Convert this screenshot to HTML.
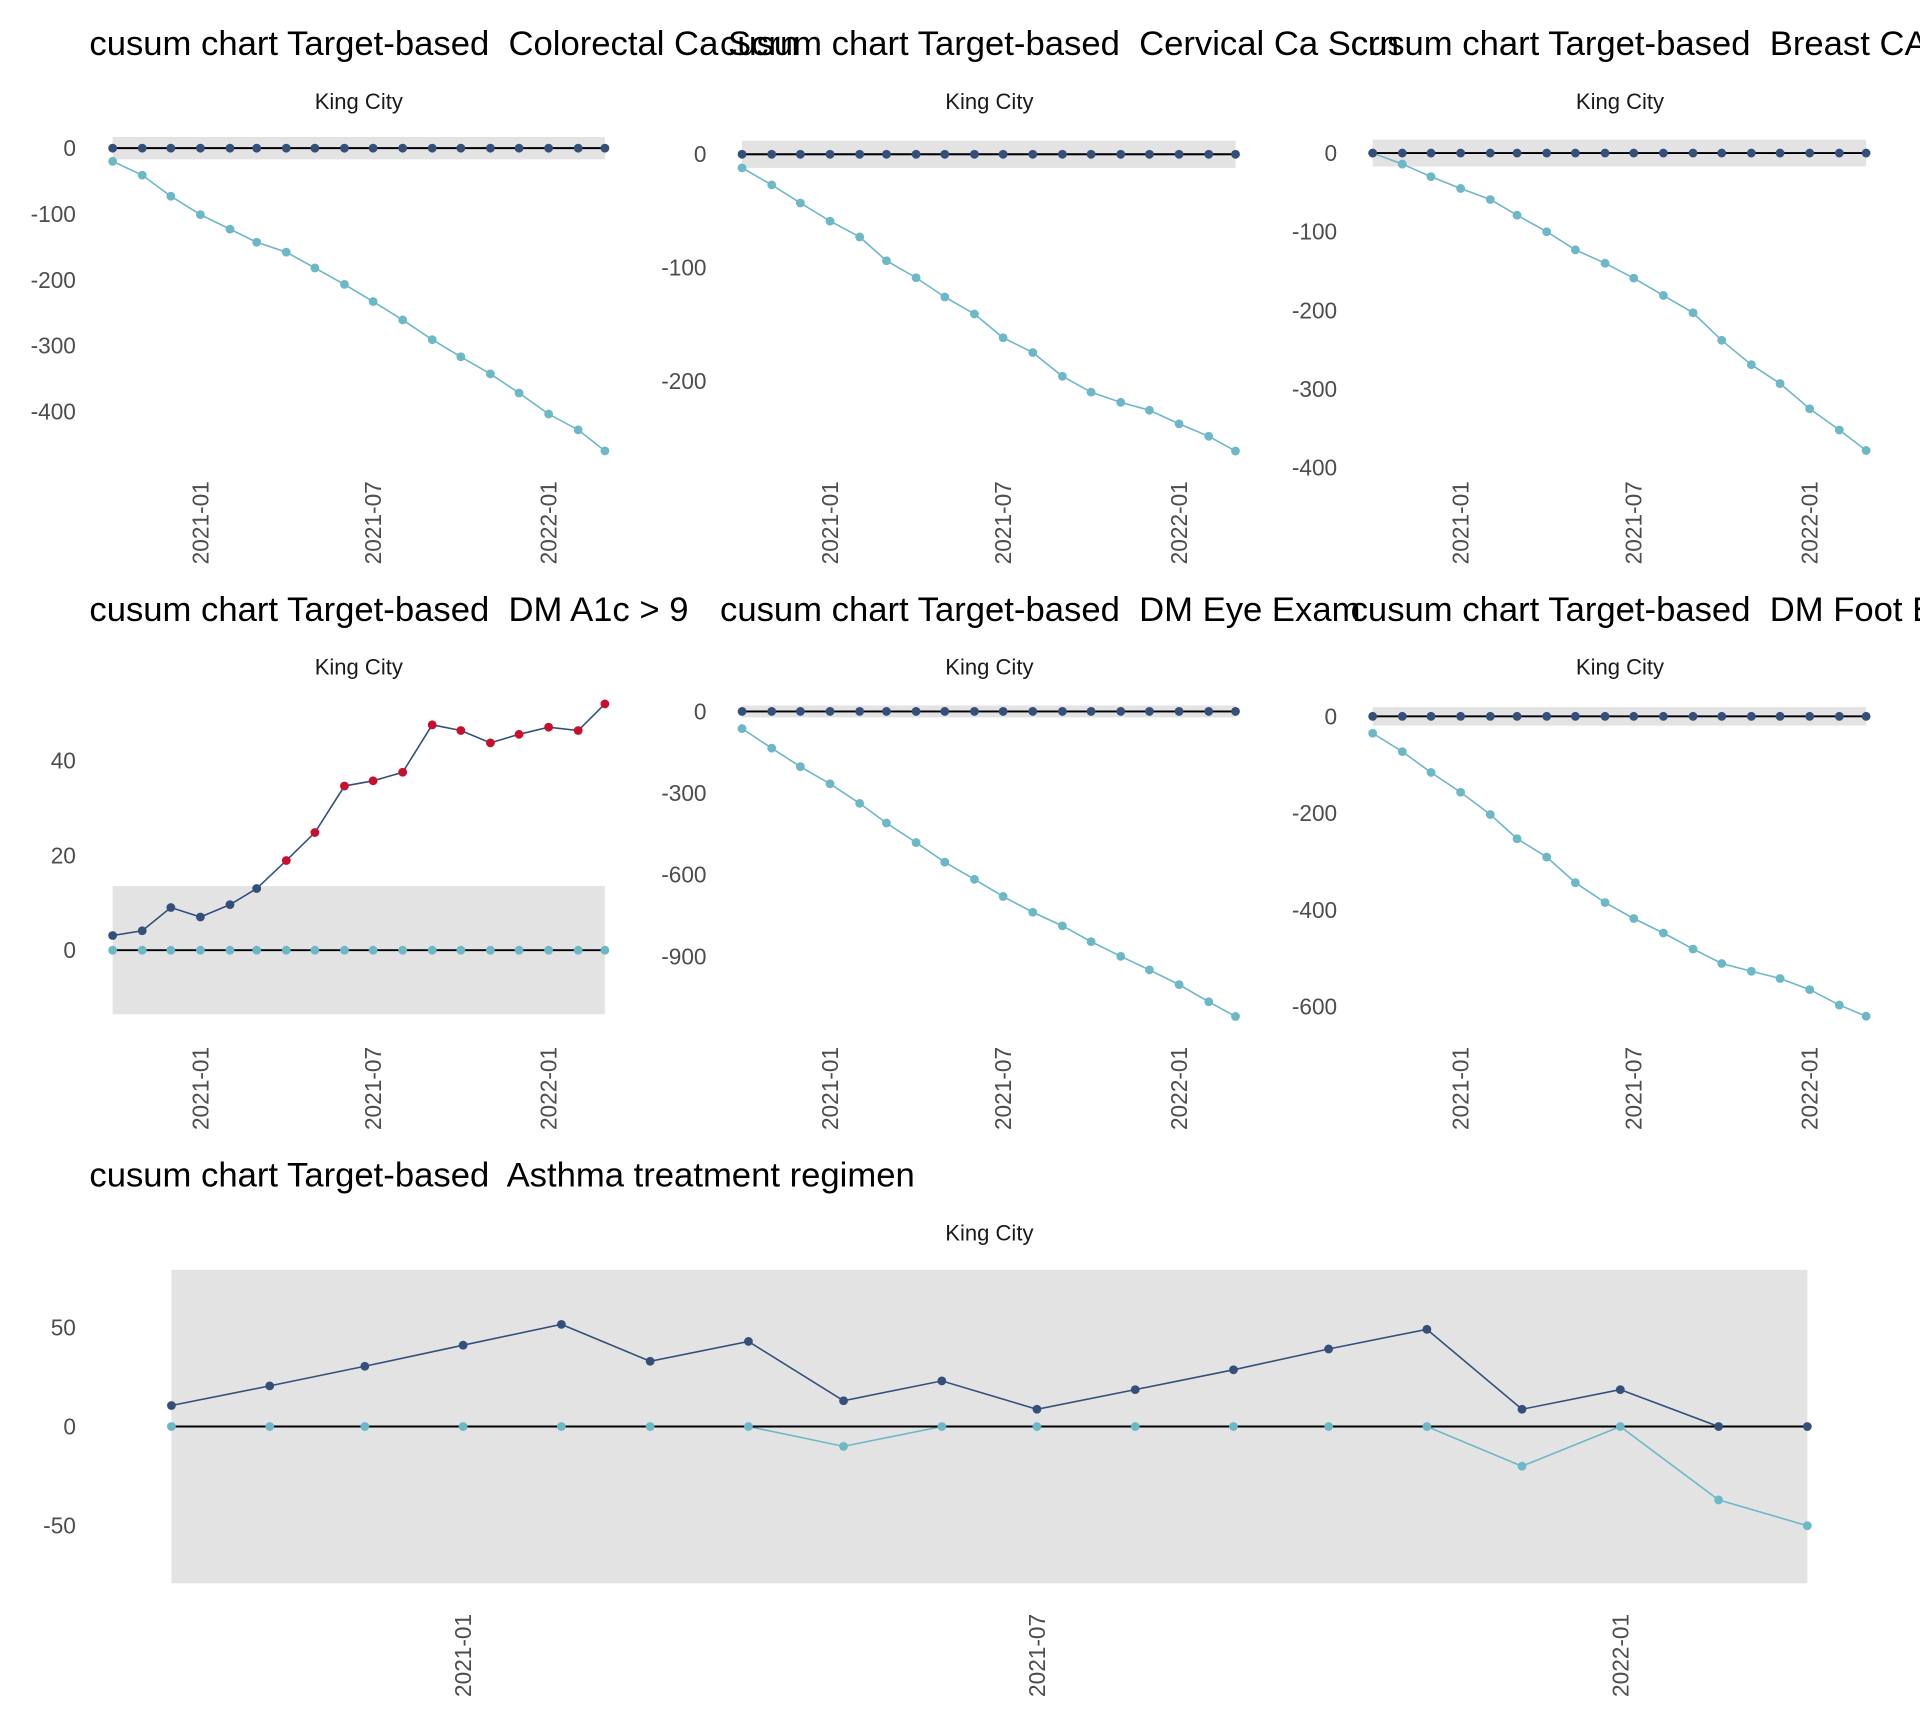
<!DOCTYPE html>
<html><head><meta charset="utf-8">
<style>
html,body{margin:0;padding:0;background:#fff;}
svg{display:block;font-family:"Liberation Sans",Arial,sans-serif;}
text{white-space:pre;}
</style></head>
<body>
<svg id="chart" width="1920" height="1728" viewBox="0 0 1568 1411.2" xmlns="http://www.w3.org/2000/svg" xml:space="preserve"></svg>
<script>
const months = ["2020-10","2020-11","2020-12","2021-01","2021-02","2021-03","2021-04","2021-05","2021-06","2021-07","2021-08","2021-09","2021-10","2021-11","2021-12","2022-01","2022-02","2022-03"];
const xTickLabels = ["2021-01","2021-07","2022-01"];
const titles = ["cusum chart Target-based  Colorectal Ca Scrn","cusum chart Target-based  Cervical Ca Scrn","cusum chart Target-based  Breast CA Scrn","cusum chart Target-based  DM A1c > 9","cusum chart Target-based  DM Eye Exam","cusum chart Target-based  DM Foot Exam","cusum chart Target-based  Asthma treatment regimen"];
const upperColorectal = [0,0,0,0,0,0,0,0,0,0,0,0,0,0,0,0,0,0];
const lowerColorectal = [-20,-41,-73,-101,-123,-143,-158,-182,-207,-233,-261,-291,-317,-343,-372,-404,-428,-460];
const upperCervical = [0,0,0,0,0,0,0,0,0,0,0,0,0,0,0,0,0,0];
const lowerCervical = [-12,-27,-43,-59,-73,-94,-109,-126,-141,-162,-175,-196,-210,-219,-226,-238,-249,-262];
const upperBreast = [0,0,0,0,0,0,0,0,0,0,0,0,0,0,0,0,0,0];
const lowerBreast = [0,-14,-30,-45,-59,-79,-100,-123,-140,-159,-181,-203,-238,-269,-293,-325,-352,-378];
const upperA1c = [3.1,4.1,9.0,7.0,9.6,13.0,18.9,24.8,34.6,35.7,37.5,47.5,46.3,43.7,45.5,47.0,46.3,51.9];
const lowerA1c = [0,0,0,0,0,0,0,0,0,0,0,0,0,0,0,0,0,0];
const upperEye = [0,0,0,0,0,0,0,0,0,0,0,0,0,0,0,0,0,0];
const lowerEye = [-63,-135,-203,-266,-338,-410,-482,-554,-617,-680,-738,-788,-846,-900,-950,-1004,-1067,-1121];
const upperFoot = [0,0,0,0,0,0,0,0,0,0,0,0,0,0,0,0,0,0];
const lowerFoot = [-35,-73,-116,-157,-203,-253,-291,-344,-385,-418,-448,-481,-511,-527,-542,-565,-597,-620];
const upperAsthma = [10.6,20.5,30.4,41,51.5,32.9,42.9,13,23,8.7,18.6,28.6,39.1,49,8.7,18.6,0,0];
const lowerAsthma = [0,0,0,0,0,0,0,-10,0,0,0,0,0,0,-20,0,-37,-50];
const limitsColorectal = [17]; const limitsCervical=[12]; const limitsBreast=[17]; const limitsA1c=[13.5]; const limitsEye=[22]; const limitsFoot=[19]; const limitsAsthma=[79];
const yTicksColorectal=[0,-100,-200,-300,-400];
const yTicksCervical=[0,-100,-200];
const yTicksBreast=[0,-100,-200,-300,-400];
const yTicksA1c=[0,20,40];
const yTicksEye=[0,-300,-600,-900];
const yTicksFoot=[0,-200,-400,-600];
const yTicksAsthma=[-50,0,50];

const NS="http://www.w3.org/2000/svg";
const svg=document.getElementById('chart');
function mk(tag,attrs,parent){const e=document.createElementNS(NS,tag);for(const k in attrs)e.setAttribute(k,attrs[k]);(parent||svg).appendChild(e);return e;}
function t(s){const [y,m]=s.split('-').map(Number);return Date.UTC(y,m-1,1);}
const DARK="#34507a",LIGHT="#6cb8c6",RED="#c8102e";

const panels=[
 {id:'colorectal',ox:0,oy:0,x0:92,x1:494,y0:121,y1:336,v1:-400,up:upperColorectal,lo:lowerColorectal,lim:limitsColorectal,yt:yTicksColorectal,lab:62},
 {id:'cervical',ox:515,oy:0,x0:606,x1:1009,y0:126,y1:311,v1:-200,up:upperCervical,lo:lowerCervical,lim:limitsCervical,yt:yTicksCervical,lab:577},
 {id:'breast',ox:1030,oy:0,x0:1121,x1:1524,y0:125,y1:382,v1:-400,up:upperBreast,lo:lowerBreast,lim:limitsBreast,yt:yTicksBreast,lab:1092},
 {id:'a1c',ox:0,oy:462,x0:92,x1:494,y0:776,y1:621,v1:40,up:upperA1c,lo:lowerA1c,lim:limitsA1c,yt:yTicksA1c,lab:62,red:true},
 {id:'eye',ox:515,oy:462,x0:606,x1:1009,y0:581,y1:781,v1:-900,up:upperEye,lo:lowerEye,lim:limitsEye,yt:yTicksEye,lab:577},
 {id:'foot',ox:1030,oy:462,x0:1121,x1:1524,y0:585,y1:822,v1:-600,up:upperFoot,lo:lowerFoot,lim:limitsFoot,yt:yTicksFoot,lab:1092},
 {id:'asthma',ox:0,oy:924,x0:140,x1:1476,y0:1165,y1:1246,v1:-50,up:upperAsthma,lo:lowerAsthma,lim:limitsAsthma,yt:yTicksAsthma,lab:62,cx:808}
];
panels.forEach((p,i)=>{
  const g=mk('g',{});
  
  
  const tmin=t(months[0]),tmax=t(months[months.length-1]);
  const X=s=>p.x0+(t(s)-tmin)/(tmax-tmin)*(p.x1-p.x0);
  const k=(p.y1-p.y0)/p.v1;
  const Y=v=>p.y0+v*k;
  const title=mk('text',{x:p.ox+73,y:p.oy+45,'font-size':28.3,fill:'#000'},g);
  title.textContent=titles[i];
  
  
  const cx=p.cx||(p.ox+293);
  const st=mk('text',{x:cx,y:p.oy+89,'font-size':18,'text-anchor':'middle',fill:'#1a1a1a'},g);
  st.textContent="King City";
  
  
  const L=p.lim[0];
  const band=mk('rect',{x:p.x0,y:Y(L),width:p.x1-p.x0,height:Math.abs(Y(-L)-Y(L)),fill:'#e3e3e3'},g);
  
  
  p.yt.forEach(v=>{const tx=mk('text',{x:p.lab,y:Y(v)+6.5,'font-size':18.5,'text-anchor':'end',fill:'#4d4d4d'},g);tx.textContent=v;
    
    });
  xTickLabels.forEach(s=>{const x=X(s)+6.5,y=p.oy+393+(p.id==='asthma'?1:0);
    const tx=mk('text',{x:x,y:y,'font-size':18.5,'text-anchor':'end',fill:'#4d4d4d',transform:`rotate(-90 ${x} ${y})`},g);tx.textContent=s;
    
    });
  const lp=mk('polyline',{points:months.map((m,j)=>X(m)+','+Y(p.lo[j])).join(' '),fill:'none',stroke:LIGHT,'stroke-width':1.3},g);
  
  
  const up=mk('polyline',{points:months.map((m,j)=>X(m)+','+Y(p.up[j])).join(' '),fill:'none',stroke:DARK,'stroke-width':1.3},g);
  
  
  const zl=mk('line',{x1:p.x0,x2:p.x1,y1:Y(0),y2:Y(0),stroke:'#000','stroke-width':1.6},g);
  
  
  months.forEach((m,j)=>{
    const c=mk('circle',{cx:X(m),cy:Y(p.lo[j]),r:3.6,fill:LIGHT},g);
    
    
  });
  months.forEach((m,j)=>{
    const col=(p.red&&p.up[j]>L)?RED:DARK;
    const c=mk('circle',{cx:X(m),cy:Y(p.up[j]),r:3.6,fill:col},g);
    
    
  });
});
</script>
</body></html>
